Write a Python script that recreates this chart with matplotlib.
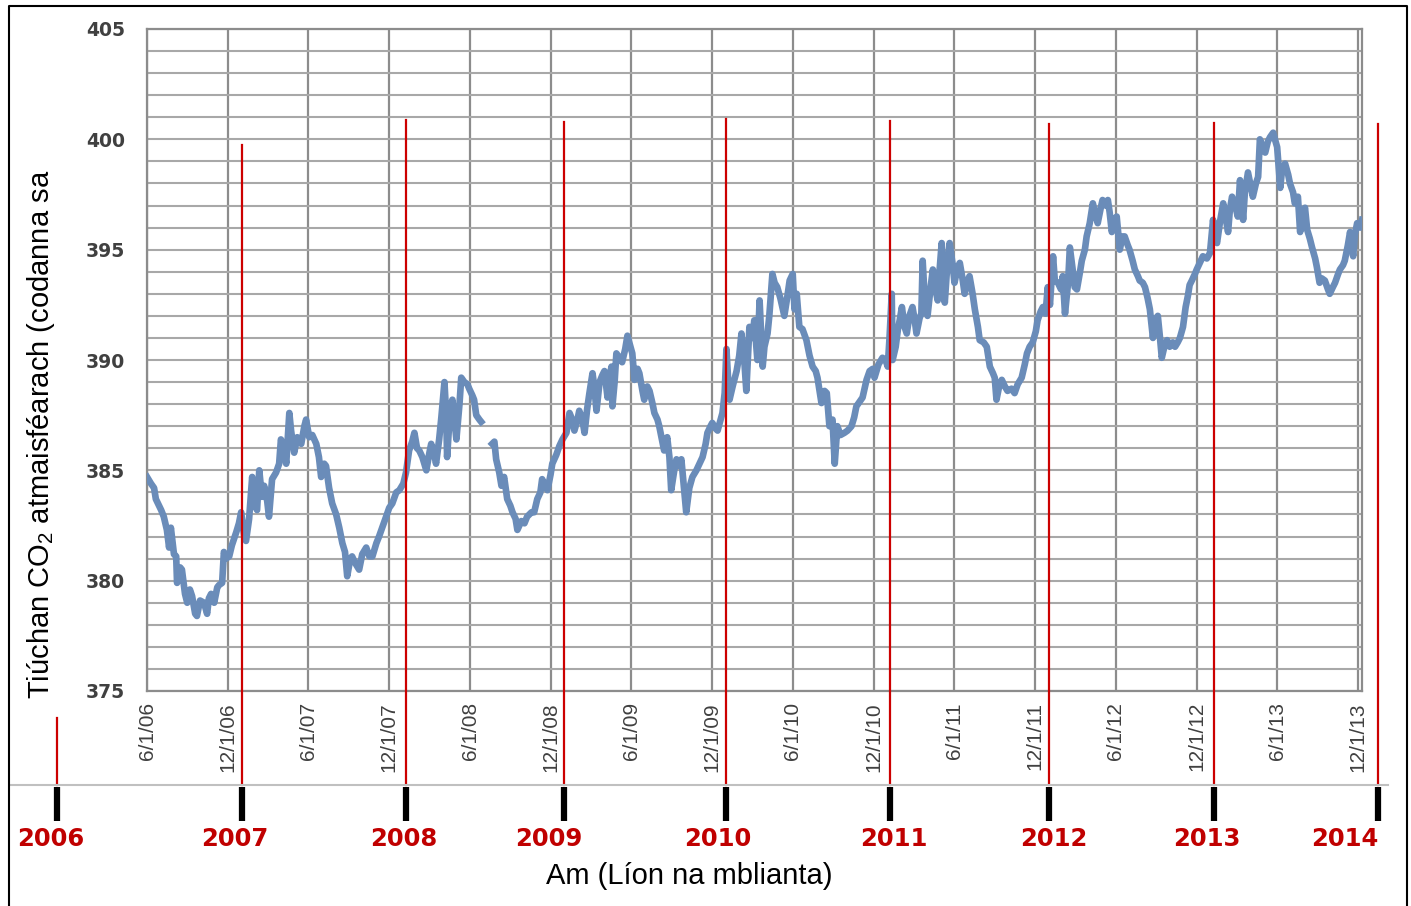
import numpy as np
import pandas as pd
import matplotlib
matplotlib.use('Agg')
import matplotlib.pyplot as plt
from matplotlib.lines import Line2D

W, H = 1411, 906
plt.rcParams['mathtext.fontset'] = 'custom'
plt.rcParams['mathtext.rm'] = 'Liberation Sans'

# days counted from 1 June 2006, CO2 in ppm
start = pd.Timestamp('2006-06-01')
days = [0, 9, 16, 20, 32, 38, 45, 50, 54, 61, 66, 68, 75, 79, 86, 91, 97, 102, 109, 113,
        120, 129, 136, 140, 145, 152, 159, 163, 170, 174, 179, 186, 192, 202, 208, 213, 220, 224, 231, 238,
        242, 249, 254, 260, 265, 272, 276, 283, 292, 299, 303, 310, 315, 322, 326, 333, 340, 349, 356, 360,
        367, 374, 383, 389, 394, 401, 405, 412, 419, 428, 435, 442, 448, 453, 460, 464, 471, 480, 487, 496,
        503, 510, 519, 525, 534, 541, 548, 555, 564, 571, 580, 586, 593, 600, 605, 611, 616, 623, 632, 639,
        643, 650, 654, 661, 666, 673, 677, 679, 686, 691, 695, 700, 707, 711, 718, 725, 729, 736, 740, 745,
        752, 756, 760, 781, 786, 790, 797, 802, 808, 815, 822, 827, 834, 838, 847, 854, 860, 870, 876, 883,
        890, 894, 901, 906, 913, 917, 926, 933, 940, 949, 956, 962, 967, 974, 978, 985, 990, 996, 1001, 1008,
        1012, 1017, 1024, 1030, 1035, 1042, 1046, 1051, 1053, 1058, 1062, 1069, 1075, 1082, 1087, 1094, 1098, 1103, 1110, 1114,
        1121, 1125, 1132, 1137, 1144, 1148, 1155, 1159, 1166, 1170, 1177, 1182, 1186, 1193, 1198, 1205, 1209, 1216, 1220, 1227,
        1234, 1243, 1250, 1257, 1264, 1268, 1275, 1279, 1286, 1291, 1298, 1302, 1307, 1311, 1316, 1318, 1325, 1334, 1340, 1345,
        1352, 1356, 1363, 1370, 1374, 1381, 1386, 1393, 1397, 1404, 1408, 1415, 1420, 1426, 1433, 1442, 1449, 1454, 1461, 1465,
        1470, 1476, 1483, 1492, 1499, 1506, 1513, 1517, 1526, 1533, 1538, 1544, 1551, 1556, 1562, 1569, 1578, 1585, 1594, 1600,
        1605, 1612, 1619, 1628, 1635, 1642, 1646, 1655, 1664, 1671, 1676, 1680, 1685, 1687, 1694, 1699, 1703, 1708, 1714, 1719,
        1725, 1732, 1737, 1741, 1748, 1752, 1755, 1759, 1766, 1773, 1778, 1784, 1789, 1793, 1798, 1805, 1809, 1816, 1823, 1827,
        1834, 1839, 1845, 1850, 1857, 1861, 1868, 1873, 1880, 1884, 1893, 1900, 1907, 1914, 1918, 1922, 1929, 1934, 1941, 1947,
        1956, 1963, 1970, 1979, 1986, 1991, 1997, 2004, 2011, 2015, 2022, 2027, 2033, 2038, 2043, 2050, 2054, 2061, 2068, 2072,
        2077, 2084, 2088, 2095, 2099, 2104, 2111, 2115, 2122, 2126, 2133, 2140, 2147, 2151, 2158, 2162, 2169, 2174, 2178, 2183,
        2189, 2194, 2201, 2207, 2212, 2219, 2223, 2230, 2235, 2242, 2246, 2253, 2258, 2264, 2269, 2276, 2280, 2287, 2292, 2296,
        2303, 2308, 2314, 2321, 2326, 2332, 2337, 2344, 2350, 2355, 2359, 2364, 2371, 2375, 2382, 2389, 2398, 2405, 2412, 2416,
        2421, 2428, 2435, 2441, 2446, 2450, 2455, 2462, 2468, 2473, 2480, 2484, 2491, 2496, 2502, 2509, 2514, 2518, 2525, 2530,
        2536, 2541, 2548, 2552, 2557, 2564, 2568, 2575, 2582, 2586, 2593, 2597, 2604, 2609, 2615, 2620, 2625, 2631, 2636, 2643,
        2647, 2653, 2658, 2665, 2672, 2676, 2683, 2688, 2695, 2699, 2706, 2710, 2717, 2722, 2729, 2733, 2738, 2745, 2749]
co2 = [384.7, 384.4, 384.2, 383.7, 383.2, 382.9, 382.3, 381.5, 382.4, 381.2, 381.1, 379.9, 380.6, 380.5, 379.4, 379.0, 379.6, 379.3, 378.5, 378.4,
       379.1, 379.0, 378.5, 379.2, 379.4, 379.0, 379.7, 379.8, 379.9, 381.3, 381.0, 381.1, 381.6, 382.2, 382.6, 383.1, 382.0, 381.8, 382.8, 384.7,
       383.5, 383.2, 385.0, 383.8, 384.3, 383.6, 382.9, 384.6, 384.9, 385.3, 386.4, 386.0, 385.3, 387.6, 386.8, 385.8, 386.5, 386.2, 387.0, 387.3,
       386.5, 386.6, 386.2, 385.6, 384.7, 385.3, 385.2, 384.2, 383.5, 383.0, 382.4, 381.7, 381.3, 380.2, 381.0, 381.1, 380.8, 380.5, 381.2, 381.5,
       381.1, 381.1, 381.7, 382.0, 382.5, 382.9, 383.3, 383.5, 384.0, 384.1, 384.4, 384.9, 385.9, 386.3, 386.7, 386.0, 385.9, 385.6, 385.0, 385.8,
       386.2, 385.7, 385.3, 386.4, 387.4, 389.0, 387.5, 385.6, 387.8, 388.2, 387.4, 386.4, 388.0, 389.2, 389.0, 388.9, 388.7, 388.4, 388.2, 387.5,
       387.3, 387.2, np.nan, 386.2, 386.3, 385.5, 384.9, 384.3, 384.7, 383.7, 383.4, 383.1, 382.8, 382.3, 382.7, 382.6, 382.9, 383.1, 383.1, 383.7,
       384.0, 384.6, 384.3, 384.1, 384.8, 385.3, 385.7, 386.1, 386.4, 386.7, 387.6, 387.3, 386.8, 387.3, 387.7, 387.3, 386.7, 387.8, 388.5, 389.4,
       388.8, 387.7, 389.0, 389.3, 389.5, 388.3, 389.2, 389.7, 387.9, 389.0, 390.3, 390.1, 389.9, 390.5, 391.1, 390.6, 390.3, 389.1, 389.6, 389.4,
       388.6, 388.2, 388.8, 388.6, 388.0, 387.6, 387.3, 387.0, 386.3, 385.9, 386.5, 385.6, 384.1, 385.0, 385.5, 385.2, 385.5, 384.0, 383.1, 384.2,
       384.7, 385.0, 385.3, 385.6, 386.2, 386.7, 387.0, 387.15, 386.9, 386.8, 387.3, 387.6, 388.5, 390.5, 388.7, 388.2, 388.8, 389.5, 390.2, 391.2,
       389.8, 388.6, 391.5, 391.0, 391.8, 390.0, 392.7, 389.7, 390.6, 391.2, 392.0, 393.9, 393.5, 393.3, 392.8, 392.0, 392.9, 393.6, 393.9, 392.3,
       393.0, 391.5, 391.4, 390.9, 390.2, 389.7, 389.5, 389.2, 388.05, 388.6, 388.5, 387.0, 387.3, 385.3, 387.0, 386.6, 386.7, 386.8, 387.0, 387.4,
       387.9, 388.1, 388.3, 389.1, 389.5, 389.6, 389.2, 389.8, 390.1, 390.0, 389.7, 391.0, 393.0, 390.0, 390.6, 391.4, 391.8, 392.4, 391.5, 391.2,
       392.0, 392.4, 391.8, 391.2, 391.9, 392.1, 394.5, 393.0, 392.0, 393.3, 394.1, 393.2, 392.7, 394.0, 395.3, 392.6, 393.8, 395.3, 394.3, 393.5,
       394.2, 394.4, 393.7, 393.0, 393.6, 393.8, 393.0, 392.3, 391.5, 390.9, 390.8, 390.6, 389.7, 389.4, 389.2, 388.2, 388.9, 389.1, 388.8, 388.6,
       388.7, 388.5, 388.9, 389.2, 389.8, 390.3, 390.6, 390.8, 391.3, 391.8, 392.2, 392.4, 392.1, 393.3, 392.5, 394.7, 393.6, 393.5, 393.2, 393.8,
       392.1, 393.5, 395.1, 394.0, 393.3, 393.2, 394.0, 394.5, 395.0, 395.6, 396.2, 397.1, 396.5, 396.2, 396.9, 397.25, 397.0, 397.25, 396.7, 395.8,
       396.4, 396.5, 395.0, 395.6, 395.6, 395.2, 395.0, 394.5, 394.1, 393.8, 393.6, 393.5, 393.3, 392.8, 392.3, 391.0, 391.8, 392.0, 391.0, 390.1,
       390.7, 390.9, 390.6, 390.8, 390.6, 390.8, 391.0, 391.5, 392.4, 392.9, 393.4, 393.6, 393.9, 394.1, 394.4, 394.7, 394.6, 394.85, 396.35, 395.6,
       395.3, 396.3, 397.1, 396.4, 395.8, 396.8, 397.4, 397.0, 396.5, 398.15, 396.35, 397.6, 398.5, 398.0, 397.4, 398.0, 398.3, 400.0, 399.6, 399.4,
       399.9, 400.1, 400.3, 400.0, 399.65, 397.8, 398.6, 398.9, 398.4, 398.0, 397.6, 397.1, 397.4, 395.8, 396.5, 396.9, 395.9, 395.5, 395.1, 394.6,
       394.2, 393.5, 393.7, 393.6, 393.2, 393.0, 393.3, 393.5, 393.9, 394.1, 394.3, 394.5, 395.2, 395.8, 394.7, 395.7, 396.2, 396.0, 396.35]

tick_dates = pd.date_range('2006-06-01', '2013-12-01', freq='6MS')
tick_days = (tick_dates - start).days
tick_labels = [f"{d.month}/{d.day}/{d.strftime('%y')}" for d in tick_dates]

# year markers drawn under the chart
years = ['2006', '2007', '2008', '2009', '2010', '2011', '2012', '2013', '2014']
mark_days = [-204, 215, 586, 943, 1311, 1680, 2040, 2414, 2785]
mark_tops = [373.78, 399.74, 400.88, 400.79, 400.92, 400.83, 400.70, 400.74, 400.70]
label_days = [-217, 199, 582, 910, 1291, 1689, 2052, 2398, 2711]

fig = plt.figure(figsize=(W / 100, H / 100), dpi=100)
ax = fig.add_axes([147 / W, 1 - 691 / H, (1362 - 147) / W, (691 - 29) / H])

ax.plot(days, co2, color='#6a8cb9', lw=4.8, zorder=3, solid_joinstyle='round')

ax.set_xlim(0, 2749)
ax.set_ylim(375, 405)
ax.set_xticks(tick_days)
ax.set_xticklabels(tick_labels, rotation=90, fontsize=15, color='#404040', family='Liberation Sans')
ax.set_yticks(range(375, 406, 5))
ax.set_yticks(range(375, 406), minor=True)
ax.set_yticklabels([str(v) for v in range(375, 406, 5)], fontsize=13.5, fontweight='bold', color='#404040')
ax.tick_params(axis='x', length=0, pad=8)
ax.tick_params(axis='y', which='both', length=0, pad=16)
ax.grid(axis='x', color='#8c8c8c', lw=1.6)
ax.grid(axis='y', which='both', color='#a8a8a8', lw=1.5)
ax.set_axisbelow(True)
for s in ax.spines.values():
    s.set_color('#8c8c8c')
    s.set_linewidth(1.6)


def fig_y(ypix):
    # figure pixel row -> data y
    return ax.transData.inverted().transform((0, H - ypix))[1]


for d, top in zip(mark_days, mark_tops):
    ax.plot([d, d], [top, fig_y(785)], color='#cc0000', lw=1.6, clip_on=False, zorder=6)
    ax.plot([d, d], [fig_y(787), fig_y(821)], color='black', lw=4.5, clip_on=False,
            solid_capstyle='butt', zorder=6)
for d, yr in zip(label_days, years):
    ax.text(d, fig_y(839), yr, ha='center', va='center', fontsize=17.5, fontweight='bold',
            color='#c00000', clip_on=False)

fig.add_artist(Line2D([10 / W, 1388 / W], [1 - 785 / H] * 2, color='#c0c0c0', lw=1.5))
fig.add_artist(Line2D([9 / W, 9 / W, 1407 / W, 1407 / W], [0, 1 - 6 / H, 1 - 6 / H, 0],
                      color='black', lw=1.5))

fig.text(41 / W, 1 - 434 / H, 'Tiúchan CO$_2$ atmaisféarach (codanna sa', rotation=90,
         ha='center', va='center', fontsize=21, family='Liberation Sans')
fig.text(689 / W, 1 - 876 / H, 'Am (Líon na mblianta)', ha='center', va='center',
         fontsize=21, family='Liberation Sans')

fig.savefig('out.png', dpi=100)
